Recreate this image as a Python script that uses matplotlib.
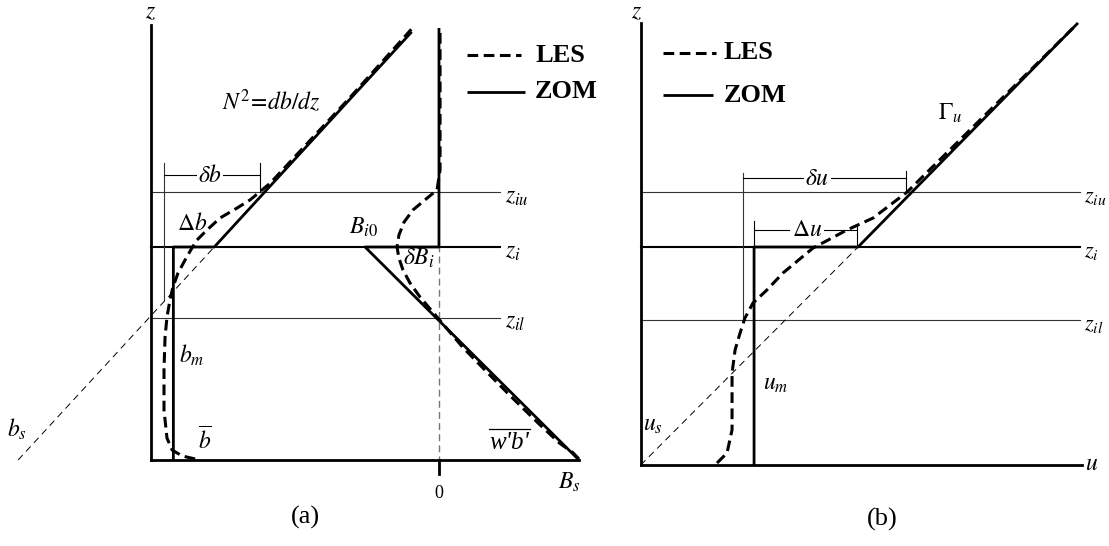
import matplotlib.pyplot as plt

plt.rcParams['mathtext.fontset'] = 'stix'
plt.rcParams['font.family'] = ['Liberation Serif', 'DejaVu Serif']

# ---------- panel (a): buoyancy b and flux w'b', height in units of z_i ----------
z_il_a, z_i_a, z_iu_a = 0.668, 1.0, 1.258
z_top_a = 2.04
b_m = 0.105
b_zom = [b_m, b_m, 0.297, 1.224]
z_b_zom = [0.0, 1.0, 1.0, 2.01]
b_ext = [-0.624, 0.297]          # thin dashed continuation down to b_s
z_b_ext = [0.0, 1.0]
b_les = [0.207, 0.146, 0.099, 0.075, 0.061, 0.061, 0.066, 0.075, 0.089, 0.103,
         0.127, 0.160, 0.192, 0.216, 0.263, 0.324, 0.404, 0.465, 0.56, 0.928, 1.222]
z_b_les = [0.005, 0.019, 0.047, 0.103, 0.235, 0.423, 0.577, 0.671, 0.751, 0.812,
           0.878, 0.939, 0.995, 1.033, 1.080, 1.136, 1.183, 1.221, 1.300, 1.695, 2.022]
flux_zero = 1.352                # where the flux is zero on the b axis
B_zom = [0.0, 0.0, -0.347, 0.657]
z_B_zom = [2.028, 1.0, 1.0, 0.0]
B_les = [0.657, 0.628, 0.565, 0.465, 0.34, 0.215, 0.11, -0.009, -0.089, -0.136,
         -0.169, -0.188, -0.197, -0.188, -0.164, -0.122, -0.066, -0.009, 0.005, 0.005]
z_B_les = [0.005, 0.035, 0.08, 0.174, 0.296, 0.423, 0.531, 0.671, 0.765, 0.831,
           0.892, 0.948, 1.0, 1.056, 1.117, 1.174, 1.221, 1.268, 1.362, 2.028]

# ---------- panel (b): velocity u ----------
z_il_b, z_i_b, z_iu_b = 0.665, 1.0, 1.252
z_top_b = 2.028
u_m = 0.52
u_zom = [u_m, u_m, 0.997, 2.006]
z_u_zom = [0.0, 1.0, 1.0, 2.028]
u_ext = [0.0, 0.997]
z_u_ext = [0.0, 1.0]
u_les = [0.350, 0.396, 0.419, 0.419, 0.419, 0.433, 0.456, 0.478, 0.515, 0.579,
         0.653, 0.790, 0.946, 1.066, 1.222, 1.997]
z_u_les = [0.009, 0.055, 0.161, 0.284, 0.422, 0.528, 0.606, 0.674, 0.743, 0.803,
           0.881, 0.995, 1.078, 1.133, 1.252, 2.018]

W, H = 1109, 546
fig = plt.figure(figsize=(W / 100, H / 100), dpi=100)

THICK = 2.0
THIN = 0.8
LES_KW = dict(color='black', lw=2.2, ls=(0, (3.5, 1.8)), zorder=5)
ZOM_KW = dict(color='black', lw=THICK, solid_capstyle='butt', zorder=4)
EXT_KW = dict(color='black', lw=0.7, ls=(0, (7, 5)), zorder=3)
LAB = 17
SUB = dict(fontsize=LAB, ha='center', va='center')

# ---------------- (a) ----------------
ax = fig.add_axes([0, 0, 600 / W, 1])
ax.set_xlim(-151 / 213, 449 / 213)
ax.set_ylim(-86 / 213, 460 / 213)
ax.axis('off')

x_right_a = 1.638
for zz in (z_iu_a, z_il_a):
    ax.plot([0, x_right_a], [zz, zz], color='#333333', lw=THIN, zorder=2)
ax.plot([0, x_right_a], [z_i_a, z_i_a], color='black', lw=1.5, zorder=2)
ax.plot([0, 0], [0, z_top_a], color='black', lw=THICK, zorder=4)
ax.plot([0, 2.009], [0, 0], color='black', lw=THICK, zorder=4)

# zero-flux reference
ax.plot([flux_zero, flux_zero], [-0.066, z_i_a], color='#777777', lw=1.0,
        ls=(0, (5, 3)), zorder=2)
ax.plot([flux_zero, flux_zero], [-0.066, 0], color='black', lw=THICK, zorder=4)

ax.plot(b_ext, z_b_ext, **EXT_KW)
ax.plot(b_zom, z_b_zom, **ZOM_KW)
ax.plot(b_les, z_b_les, **LES_KW)
ax.plot([flux_zero + v for v in B_zom], z_B_zom, **ZOM_KW)
ax.plot([flux_zero + v for v in B_les], z_B_les, **LES_KW)

# delta b bracket
ax.plot([0.062, 0.062], [0.751, 1.394], color='#333333', lw=THIN, zorder=2)
ax.plot([0.062, 0.512], [1.338, 1.338], color='black', lw=THIN, zorder=2)
ax.plot([0.512, 0.512], [z_iu_a, 1.394], color='black', lw=THIN, zorder=2)
ax.text(0.277, 1.333, r'$\delta b$', zorder=3,
        bbox=dict(facecolor='white', edgecolor='none', pad=1), **SUB)

# legend
ax.plot([1.484, 1.737], [1.901, 1.901], **LES_KW)
ax.plot([1.484, 1.756], [1.728, 1.728], **ZOM_KW)
ax.text(1.803, 1.901, 'LES', fontsize=19, fontweight='bold', va='center')
ax.text(1.803, 1.728, 'ZOM', fontsize=19, fontweight='bold', va='center')

ax.text(0.0, 2.099, r'$z$', **SUB)
ax.text(1.662, 1.232, r'$z_{iu}$', fontsize=LAB, ha='left', va='center')
ax.text(1.662, 0.975, r'$z_{i}$', fontsize=LAB, ha='left', va='center')
ax.text(1.662, 0.645, r'$z_{il}$', fontsize=LAB, ha='left', va='center')
ax.text(0.563, 1.681, r'$N^{2}\!=\!db/dz$', **SUB)
ax.text(0.192, 1.108, r'$\Delta b$', **SUB)
ax.text(1.0, 1.094, r'$B_{i0}$', **SUB)
ax.text(1.183, 0.945, r'$\delta B_{i}$', fontsize=LAB, ha='left', va='center')
ax.text(0.131, 0.49, r'$b_{m}$', fontsize=LAB, ha='left', va='center')
ax.text(0.254, 0.09, r'$\overline{b}$', **SUB)
ax.text(-0.629, 0.145, r'$b_{s}$', **SUB)
ax.text(1.681, 0.082, "w'b'", fontsize=LAB + 1, fontstyle='italic',
        ha='center', va='center')
ax.plot([1.585, 1.778], [0.146, 0.146], color='black', lw=0.9)
ax.text(1.962, -0.105, r'$B_{s}$', **SUB)
ax.text(flux_zero, -0.155, '0', fontsize=13, ha='center', va='center')
ax.text(0.723, -0.272, '(a)', fontsize=19, ha='center', va='center')

# ---------------- (b) ----------------
bx = fig.add_axes([600 / W, 0, 509 / W, 1])
bx.set_xlim(-40.7 / 218, 468.3 / 218)
bx.set_ylim(-81 / 218, 465 / 218)
bx.axis('off')

x_right_b = 2.015
for zz in (z_iu_b, z_il_b):
    bx.plot([0, x_right_b], [zz, zz], color='#333333', lw=THIN, zorder=2)
bx.plot([0, x_right_b], [z_i_b, z_i_b], color='black', lw=1.5, zorder=2)
bx.plot([0, 0], [0, z_top_b], color='black', lw=THICK, zorder=4)
bx.plot([0, 2.024], [0, 0], color='black', lw=THICK, zorder=4)

bx.plot(u_ext, z_u_ext, **EXT_KW)
bx.plot(u_zom, z_u_zom, **ZOM_KW)
bx.plot(u_les, z_u_les, **LES_KW)

# delta u bracket
bx.plot([0.471, 0.471], [z_il_b, 1.339], color='#333333', lw=THIN, zorder=2)
bx.plot([0.471, 1.216], [1.317, 1.317], color='black', lw=THIN, zorder=2)
bx.plot([1.216, 1.216], [z_iu_b, 1.349], color='black', lw=THIN, zorder=2)
bx.text(0.809, 1.31, r'$\delta u$', zorder=3,
        bbox=dict(facecolor='white', edgecolor='none', pad=1), **SUB)
# Delta u bracket
bx.plot([u_m, u_m], [z_i_b, 1.119], color='black', lw=THIN, zorder=2)
bx.plot([u_m, 0.992], [1.078, 1.078], color='black', lw=THIN, zorder=2)
bx.plot([0.992, 0.992], [z_i_b, 1.101], color='black', lw=THIN, zorder=2)
bx.text(0.763, 1.075, r'$\Delta u$', zorder=3,
        bbox=dict(facecolor='white', edgecolor='none', pad=1), **SUB)

# legend
bx.plot([0.102, 0.345], [1.890, 1.890], **LES_KW)
bx.plot([0.102, 0.332], [1.697, 1.697], **ZOM_KW)
bx.text(0.382, 1.890, 'LES', fontsize=19, fontweight='bold', va='center')
bx.text(0.382, 1.697, 'ZOM', fontsize=19, fontweight='bold', va='center')

bx.text(-0.017, 2.073, r'$z$', **SUB)
bx.text(2.035, 1.229, r'$z_{iu}$', fontsize=LAB - 1, ha='left', va='center')
bx.text(2.035, 0.975, r'$z_{i}$', fontsize=LAB - 1, ha='left', va='center')
bx.text(2.035, 0.642, r'$z_{il}$', fontsize=LAB - 1, ha='left', va='center')
bx.text(2.040, 0.0, r'$u$', fontsize=LAB, ha='left', va='center')
bx.text(1.419, 1.615, r'$\Gamma_{u}$', **SUB)
bx.text(0.561, 0.367, r'$u_{m}$', fontsize=LAB, ha='left', va='center')
bx.text(0.011, 0.183, r'$u_{s}$', fontsize=LAB, ha='left', va='center')
bx.text(1.107, -0.252, '(b)', fontsize=19, ha='center', va='center')

fig.savefig('out.png', dpi=100, facecolor='white')
